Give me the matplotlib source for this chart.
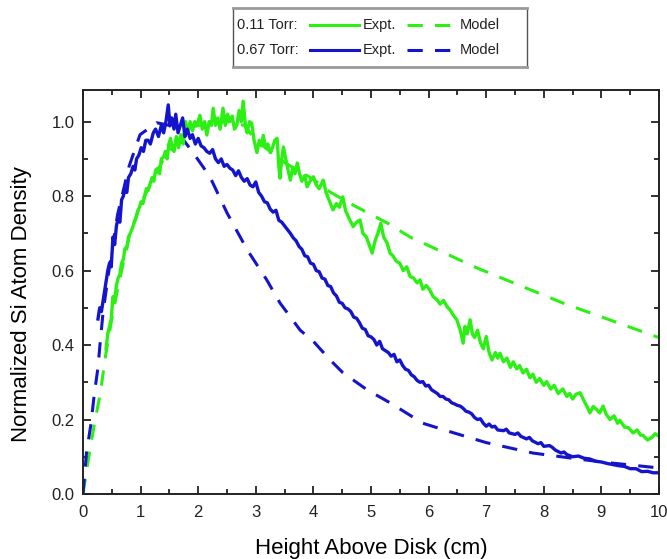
import matplotlib
matplotlib.use("Agg")
import matplotlib.pyplot as plt
from matplotlib.ticker import MultipleLocator

plt.rcParams["font.family"] = ["Liberation Sans", "DejaVu Sans"]

GREEN = "#2cf014"
BLUE = "#1414cc"

g_expt_x = [0.40, 0.43, 0.46, 0.49, 0.52, 0.55, 0.58, 0.61, 0.64, 0.67, 0.70, 0.73, 0.76, 0.79,
            0.82, 0.86, 0.89, 0.92, 0.95, 0.98, 1.01, 1.04, 1.07, 1.10, 1.13, 1.16, 1.20, 1.23,
            1.26, 1.30, 1.33, 1.36, 1.40, 1.43, 1.46, 1.49, 1.52, 1.55, 1.58, 1.62, 1.66, 1.70,
            1.74, 1.78, 1.82, 1.86, 1.90, 1.94, 1.98, 2.03, 2.07, 2.11, 2.15, 2.19, 2.23, 2.26,
            2.30, 2.34, 2.38, 2.43, 2.47, 2.51, 2.55, 2.59, 2.63, 2.67, 2.71, 2.75, 2.78, 2.82,
            2.85, 2.89, 2.93, 2.97, 3.02, 3.06, 3.10, 3.13, 3.17, 3.21, 3.25, 3.29, 3.33, 3.37,
            3.40, 3.42, 3.45, 3.48, 3.52, 3.56, 3.60, 3.64, 3.68, 3.72, 3.76, 3.80, 3.85, 3.89,
            3.94, 4.00, 4.05, 4.10, 4.17, 4.22, 4.27, 4.34, 4.40, 4.45, 4.51, 4.56, 4.62, 4.69,
            4.75, 4.81, 4.86, 4.92, 4.98, 5.02, 5.07, 5.12, 5.17, 5.22, 5.28, 5.33, 5.38, 5.44,
            5.50, 5.56, 5.62, 5.68, 5.74, 5.80, 5.85, 5.90, 5.96, 6.02, 6.08, 6.15, 6.20, 6.26,
            6.32, 6.37, 6.43, 6.49, 6.55, 6.60, 6.63, 6.67, 6.72, 6.76, 6.80, 6.85, 6.90, 6.95,
            7.00, 7.05, 7.10, 7.16, 7.20, 7.24, 7.30, 7.36, 7.42, 7.47, 7.53, 7.58, 7.64, 7.70,
            7.76, 7.81, 7.87, 7.93, 8.00, 8.05, 8.12, 8.18, 8.25, 8.33, 8.40, 8.45, 8.50, 8.56,
            8.63, 8.70, 8.76, 8.80, 8.86, 8.93, 8.97, 9.03, 9.08, 9.15, 9.22, 9.28, 9.32, 9.40,
            9.47, 9.55, 9.62, 9.68, 9.72, 9.80, 9.88, 9.93, 10.0]
g_expt_y = [0.39, 0.43, 0.45, 0.47, 0.53, 0.52, 0.56, 0.58, 0.59, 0.62, 0.63, 0.66, 0.66, 0.69,
            0.70, 0.715, 0.73, 0.74, 0.76, 0.77, 0.785, 0.78, 0.80, 0.82, 0.815, 0.83, 0.85, 0.84,
            0.87, 0.875, 0.86, 0.90, 0.905, 0.92, 0.90, 0.94, 0.955, 0.93, 0.92, 0.96, 0.93, 0.965,
            0.94, 1.00, 0.97, 1.00, 0.975, 1.00, 0.99, 1.017, 0.98, 1.00, 0.964, 1.00, 0.99, 1.036,
            0.99, 1.01, 0.98, 1.036, 0.99, 1.02, 1.00, 1.015, 0.98, 0.99, 1.03, 1.00, 1.055, 0.99,
            0.97, 1.00, 0.995, 0.95, 0.917, 0.95, 0.935, 0.963, 0.93, 0.94, 0.917, 0.93, 0.95, 0.955,
            0.88, 0.848, 0.90, 0.932, 0.90, 0.87, 0.843, 0.875, 0.86, 0.889, 0.86, 0.84, 0.855, 0.825,
            0.84, 0.852, 0.83, 0.82, 0.843, 0.81, 0.79, 0.763, 0.78, 0.77, 0.798, 0.76, 0.74, 0.718,
            0.73, 0.736, 0.70, 0.69, 0.664, 0.647, 0.68, 0.70, 0.727, 0.69, 0.674, 0.647, 0.64, 0.625,
            0.62, 0.60, 0.61, 0.584, 0.58, 0.567, 0.575, 0.55, 0.56, 0.548, 0.53, 0.521, 0.51, 0.52,
            0.503, 0.495, 0.48, 0.468, 0.44, 0.405, 0.45, 0.43, 0.468, 0.43, 0.42, 0.44, 0.406, 0.39,
            0.423, 0.38, 0.36, 0.38, 0.365, 0.378, 0.355, 0.365, 0.34, 0.355, 0.336, 0.345, 0.325, 0.335,
            0.312, 0.322, 0.30, 0.31, 0.292, 0.302, 0.282, 0.292, 0.27, 0.282, 0.262, 0.27, 0.255, 0.268,
            0.272, 0.25, 0.232, 0.218, 0.235, 0.225, 0.218, 0.236, 0.215, 0.20, 0.21, 0.19, 0.198, 0.18,
            0.178, 0.164, 0.172, 0.158, 0.158, 0.145, 0.152, 0.162, 0.155]

# 0.11 Torr, model (hidden under the data until x ~ 4.6)
g_model_x = [0.0, 0.1, 0.2, 0.3, 0.4, 0.5, 0.6, 0.8, 1.0, 1.2, 1.4, 1.6, 1.8, 2.0, 2.5, 2.8,
             3.0, 3.5, 4.0, 4.3, 4.64, 5.28, 5.68, 6.84, 8.33, 10.0]
g_model_y = [0.0, 0.10, 0.19, 0.27, 0.38, 0.47, 0.55, 0.69, 0.78, 0.84, 0.90, 0.94, 0.98, 0.99,
             1.00, 0.99, 0.95, 0.89, 0.845, 0.81, 0.78, 0.728, 0.69, 0.607, 0.513, 0.42]

# 0.67 Torr, experiment
b_expt_x = [0.26, 0.29, 0.32, 0.35, 0.38, 0.40, 0.43, 0.46, 0.49, 0.52, 0.55, 0.58, 0.61, 0.64,
            0.67, 0.70, 0.73, 0.76, 0.79, 0.83, 0.87, 0.90, 0.93, 0.97, 1.01, 1.05, 1.09, 1.13,
            1.17, 1.22, 1.26, 1.31, 1.36, 1.40, 1.44, 1.48, 1.51, 1.54, 1.58, 1.61, 1.65, 1.69,
            1.73, 1.77, 1.81, 1.86, 1.90, 1.95, 2.00, 2.05, 2.10, 2.15, 2.20, 2.25, 2.30, 2.35,
            2.40, 2.45, 2.50, 2.55, 2.60, 2.65, 2.70, 2.75, 2.80, 2.85, 2.90, 2.95, 3.00, 3.05,
            3.10, 3.15, 3.20, 3.25, 3.30, 3.35, 3.40, 3.45, 3.50, 3.55, 3.60, 3.65, 3.70, 3.75,
            3.80, 3.85, 3.90, 3.95, 4.00, 4.05, 4.10, 4.15, 4.20, 4.25, 4.30, 4.35, 4.40, 4.45,
            4.50, 4.55, 4.60, 4.65, 4.70, 4.75, 4.80, 4.85, 4.90, 4.95, 5.00, 5.05, 5.10, 5.15,
            5.20, 5.25, 5.30, 5.35, 5.40, 5.45, 5.50, 5.55, 5.60, 5.65, 5.70, 5.75, 5.80, 5.85,
            5.90, 5.95, 6.00, 6.05, 6.10, 6.15, 6.20, 6.25, 6.30, 6.35, 6.40, 6.45, 6.50, 6.55,
            6.60, 6.65, 6.70, 6.75, 6.80, 6.85, 6.90, 6.95, 7.00, 7.05, 7.10, 7.15, 7.20, 7.30,
            7.35, 7.40, 7.50, 7.55, 7.60, 7.70, 7.75, 7.80, 7.90, 7.95, 8.00, 8.10, 8.15, 8.20,
            8.30, 8.35, 8.40, 8.50, 8.60, 8.70, 8.80, 8.90, 9.00, 9.10, 9.20, 9.30, 9.40, 9.50,
            9.60, 9.70, 9.80, 9.90, 10.0]
b_expt_y = [0.47, 0.50, 0.49, 0.52, 0.55, 0.57, 0.60, 0.62, 0.61, 0.69, 0.67, 0.72, 0.74, 0.73,
            0.79, 0.80, 0.82, 0.81, 0.85, 0.86, 0.88, 0.87, 0.90, 0.91, 0.93, 0.92, 0.95, 0.95,
            0.94, 0.97, 0.98, 0.96, 0.99, 0.97, 1.00, 1.045, 0.99, 1.01, 0.98, 1.02, 0.97, 0.99,
            1.01, 0.96, 0.98, 0.955, 0.965, 0.94, 0.955, 0.935, 0.93, 0.92, 0.915, 0.925, 0.90, 0.89,
            0.90, 0.88, 0.885, 0.875, 0.87, 0.855, 0.868, 0.85, 0.84, 0.847, 0.83, 0.825, 0.838, 0.81,
            0.80, 0.785, 0.782, 0.765, 0.757, 0.762, 0.735, 0.73, 0.72, 0.71, 0.70, 0.688, 0.68, 0.665,
            0.657, 0.64, 0.637, 0.62, 0.617, 0.60, 0.597, 0.58, 0.577, 0.56, 0.557, 0.54, 0.532, 0.515,
            0.512, 0.50, 0.497, 0.49, 0.475, 0.472, 0.46, 0.445, 0.442, 0.425, 0.422, 0.415, 0.40, 0.41,
            0.39, 0.385, 0.38, 0.37, 0.375, 0.355, 0.36, 0.345, 0.335, 0.332, 0.32, 0.315, 0.305, 0.30,
            0.302, 0.29, 0.292, 0.28, 0.275, 0.27, 0.262, 0.262, 0.255, 0.253, 0.245, 0.242, 0.238, 0.236,
            0.23, 0.222, 0.22, 0.215, 0.205, 0.20, 0.202, 0.19, 0.182, 0.188, 0.18, 0.182, 0.172, 0.17,
            0.174, 0.164, 0.16, 0.164, 0.155, 0.148, 0.152, 0.143, 0.135, 0.138, 0.128, 0.13, 0.125, 0.118,
            0.11, 0.113, 0.106, 0.10, 0.102, 0.096, 0.094, 0.088, 0.086, 0.082, 0.079, 0.076, 0.074, 0.068,
            0.068, 0.06, 0.061, 0.057, 0.057]

# 0.67 Torr, model
b_model_x = [0.0, 0.06, 0.14, 0.19, 0.26, 0.30, 0.35, 0.45, 0.6, 0.8, 0.99, 1.28, 1.5, 1.7, 1.91,
             2.2, 2.5, 2.85, 3.19, 3.42, 3.77, 4.0, 4.29, 4.51, 4.93, 5.33, 5.9, 6.42, 7.0, 7.81,
             8.4, 9.0, 10.0]
b_model_y = [0.0, 0.11, 0.19, 0.26, 0.34, 0.41, 0.49, 0.60, 0.75, 0.88, 0.965, 0.997, 0.99, 0.96,
             0.917, 0.853, 0.755, 0.656, 0.575, 0.513, 0.44, 0.41, 0.36, 0.326, 0.28, 0.245, 0.19,
             0.165, 0.138, 0.11, 0.098, 0.086, 0.07]

W, H = 667, 559
fig = plt.figure(figsize=(W / 100, H / 100), dpi=100)
ax = fig.add_axes([83 / W, 1 - 494 / H, (659 - 83) / W, (494 - 90) / H])

dash = (0, (5, 4))
ax.plot(g_model_x, g_model_y, color=GREEN, lw=2.2, ls=dash)
ax.plot(b_model_x, b_model_y, color=BLUE, lw=2.2, ls=dash)
ax.plot(g_expt_x, g_expt_y, color=GREEN, lw=2.4)
ax.plot(b_expt_x, b_expt_y, color=BLUE, lw=2.4)

ax.set_xlim(0, 10)
ax.set_ylim(0, 1.085)
ax.xaxis.set_major_locator(MultipleLocator(1))
ax.xaxis.set_minor_locator(MultipleLocator(0.5))
ax.yaxis.set_major_locator(MultipleLocator(0.2))
ax.yaxis.set_minor_locator(MultipleLocator(0.1))
ax.yaxis.set_major_formatter(lambda v, p: f"{v:.1f}")
ax.tick_params(which="both", direction="in", top=True, right=True, labelsize=12,
               width=1.3, color="#222222", labelcolor="#222222")
ax.tick_params(which="major", length=6, pad=6)
ax.tick_params(axis="x", which="major", pad=8)
ax.tick_params(which="minor", length=3.5)
for s in ax.spines.values():
    s.set_linewidth(1.4)
    s.set_color("#222222")
ax.set_xlabel("Height Above Disk (cm)", fontsize=16, labelpad=13)
ax.set_ylabel("Normalized Si Atom Density", fontsize=16)
ax.yaxis.set_label_coords(-0.088, 0.47)

# legend drawn in its own pixel-coordinate box
lx0, ly0, lx1, ly1 = 233, 8, 527, 67
lg = fig.add_axes([lx0 / W, 1 - ly1 / H, (lx1 - lx0) / W, (ly1 - ly0) / H])
lg.set_xlim(0, lx1 - lx0)
lg.set_ylim(ly1 - ly0, 0)
lg.set_xticks([])
lg.set_yticks([])
for s in lg.spines.values():
    s.set_linewidth(1.0)
    s.set_color("#555555")
lg.spines["top"].set_linewidth(2.0)
lg.spines["bottom"].set_linewidth(2.0)
lg.spines["top"].set_color("#999999")
lg.spines["bottom"].set_color("#999999")
rows = [("0.11 Torr:", GREEN, 17), ("0.67 Torr:", BLUE, 42)]
for label, c, yy in rows:
    lg.text(4, yy, label, fontsize=10.5, va="center", ha="left", color="#222222")
    lg.plot([77, 126], [yy, yy], color=c, lw=2.2)
    lg.text(130, yy, "Expt.", fontsize=10.5, va="center", ha="left", color="#222222")
    lg.plot([174, 218], [yy, yy], color=c, lw=2.2, ls=(0, (5, 4)))
    lg.text(227, yy, "Model", fontsize=10.5, va="center", ha="left", color="#222222")

fig.savefig("out.png", dpi=100)
